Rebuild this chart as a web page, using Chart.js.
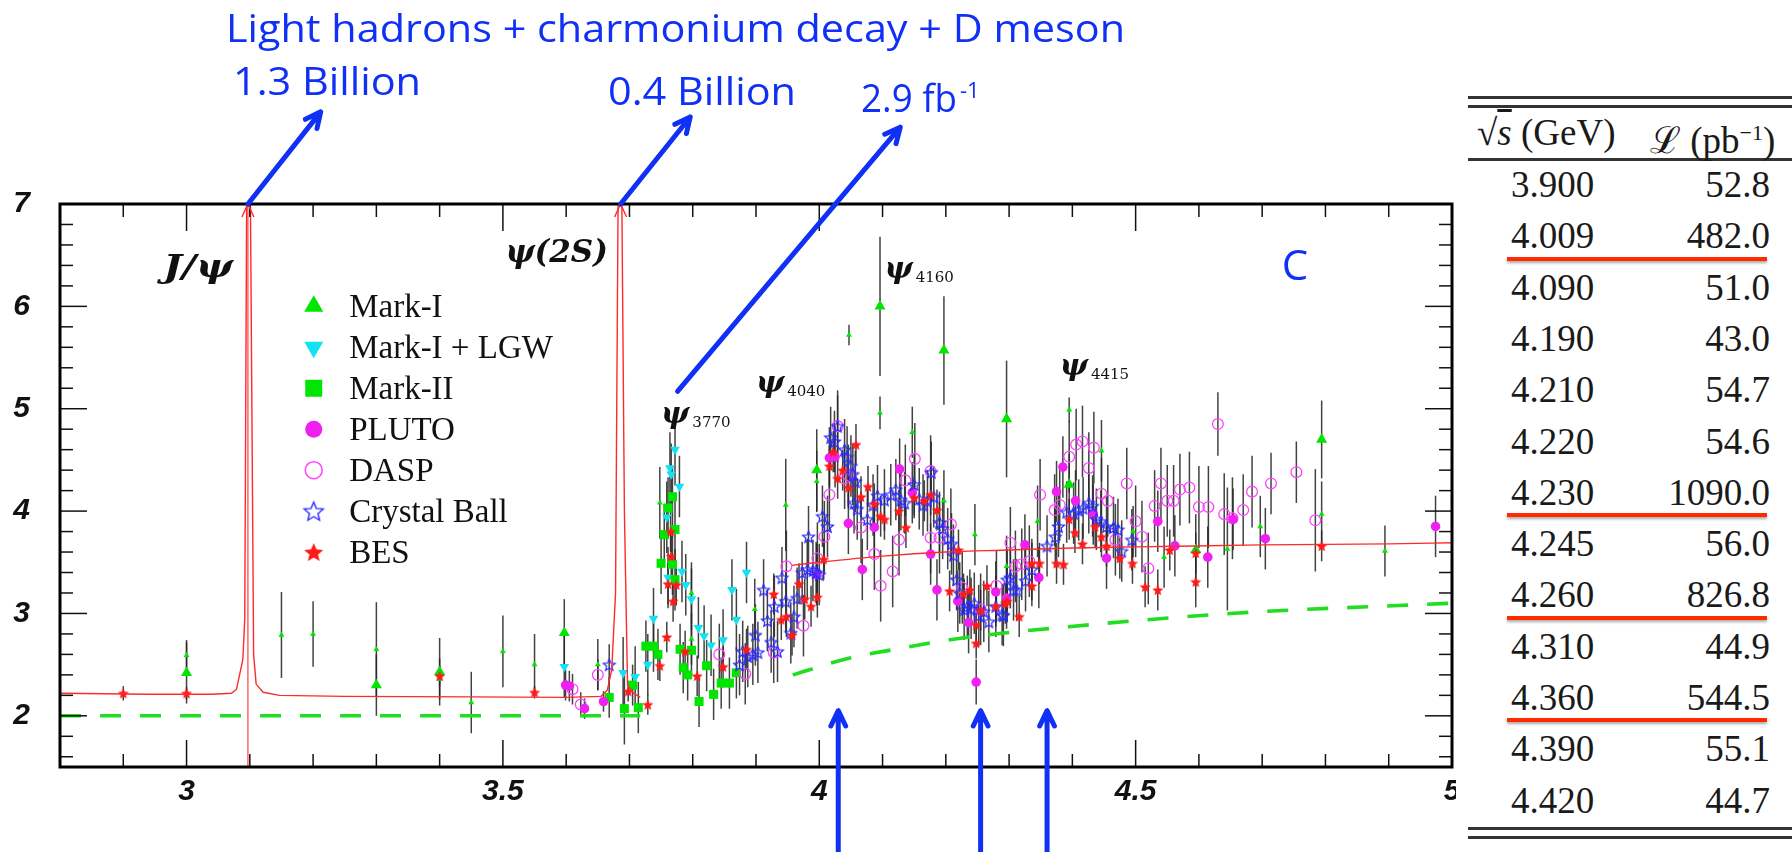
<!DOCTYPE html>
<html lang="en">
<head>
<meta charset="UTF-8" />
<title>R scan with BESIII samples</title>
<style>
  html, body { margin: 0; padding: 0; background: #fff; overflow: hidden; }
  #wrap { position: relative; width: 1792px; height: 852px; }
  #rplot { position: absolute; left: 0; top: 0; }
  #lumi { position: absolute; left: 1456px; top: 0; width: 336px; height: 852px; background: #fff;
          font-family: "Liberation Serif", "Times New Roman", serif; font-size: 37px; color: #1a1a1a; }
  .rule { position: absolute; left: 12px; right: 0; height: 2.5px; background: #333; }
  .row { position: absolute; left: 0; right: 0; height: 51.3px; line-height: 51.3px; white-space: nowrap; }
  .row .e { position: absolute; left: 55px; }
  .row .l { position: absolute; right: 22px; }
  .row .h1 { position: absolute; left: 21px; }
  .row .h2 { position: absolute; left: 194px; }
  .mark { position: absolute; left: 51px; width: 260px; height: 4px; background: #ff2a00;
          box-shadow: 0 2px 3px rgba(0,0,0,0.35); }
</style>
</head>
<body>
<div id="wrap">
  <canvas id="rplot" width="1792" height="852"></canvas>
  <div id="lumi"></div>
</div>

<script src="https://cdn.jsdelivr.net/npm/chart.js"></script>
<script>
  // axis labels
  const xLabels = [3, 3.5, 4, 4.5, 5];
  const yLabels = [2, 3, 4, 5, 6, 7];

  // measured R values: [sqrt(s) GeV, R, error]
  const markIBig = [
    [3.0, 2.42, 0.3], [3.30, 2.30, 0.3], [3.40, 2.43, 0.33], [3.597, 2.81, 0.33],
    [3.996, 4.40, 0.4], [4.096, 6.00, 0.68], [4.197, 5.57, 0.53], [4.296, 4.90, 0.57],
    [4.395, 4.26, 0.3], [4.595, 3.62, 0.35], [4.794, 4.70, 0.38]
  ];
  const markISmall = [
    [3.0, 2.59, 0.15], [3.15, 2.79, 0.42], [3.20, 2.80, 0.32], [3.30, 2.65, 0.46],
    [3.40, 2.36, 0.2], [3.45, 2.13, 0.3], [3.50, 2.63, 0.35], [3.55, 2.50, 0.3],
    [3.65, 2.50, 0.25], [3.748, 4.08, 0.35], [3.798, 3.20, 0.3], [3.798, 2.75, 0.25],
    [3.898, 3.04, 0.3], [3.947, 4.06, 0.45], [3.996, 4.29, 0.3], [4.047, 5.72, 0.1],
    [4.096, 4.96, 0.16], [4.147, 4.77, 0.25], [4.197, 4.10, 0.3], [4.246, 3.77, 0.3],
    [4.296, 3.46, 0.3], [4.345, 3.90, 0.35], [4.395, 4.99, 0.12], [4.446, 4.59, 0.3],
    [4.496, 3.80, 0.25], [4.545, 3.55, 0.3], [4.645, 3.63, 0.6], [4.697, 3.85, 0.3],
    [4.794, 3.97, 0.32], [4.894, 3.61, 0.25]
  ];
  const markILGW = [
    [3.597, 2.48, 0.3], [3.69, 2.42, 0.35], [3.709, 2.38, 0.3], [3.729, 2.50, 0.3],
    [3.738, 2.95, 0.3], [3.759, 3.94, 0.35], [3.761, 3.35, 0.3], [3.764, 4.42, 0.35],
    [3.766, 4.36, 0.3], [3.772, 4.60, 0.35], [3.779, 4.24, 0.3], [3.783, 3.41, 0.3],
    [3.789, 3.28, 0.3], [3.798, 3.14, 0.3], [3.809, 2.86, 0.3], [3.818, 2.78, 0.3],
    [3.829, 2.69, 0.3], [3.848, 2.74, 0.3], [3.862, 3.23, 0.3], [3.869, 2.94, 0.3],
    [3.885, 3.40, 0.3]
  ];
  const markII = [
    [3.668, 2.18, 0.2], [3.692, 2.07, 0.35], [3.705, 2.30, 0.2], [3.714, 2.08, 0.25],
    [3.726, 2.68, 0.25], [3.738, 2.68, 0.25], [3.745, 2.60, 0.25], [3.75, 3.49, 0.3],
    [3.755, 3.77, 0.3], [3.761, 4.03, 0.3], [3.768, 4.14, 0.3], [3.772, 3.82, 0.3],
    [3.768, 3.48, 0.3], [3.772, 3.33, 0.3], [3.78, 2.65, 0.25], [3.785, 2.47, 0.25],
    [3.792, 2.40, 0.25], [3.798, 2.64, 0.25], [3.81, 2.14, 0.25], [3.822, 2.49, 0.25],
    [3.833, 2.21, 0.25], [3.845, 2.32, 0.25], [3.858, 2.32, 0.25], [3.869, 2.42, 0.25]
  ];
  const pluto = [
    [3.599, 2.30, 0.15], [3.605, 2.29, 0.15], [3.629, 2.07, 0.1], [3.659, 2.14, 0.1],
    [3.996, 3.38, 0.3], [4.016, 4.52, 0.3], [4.025, 4.53, 0.3], [4.046, 3.88, 0.3],
    [4.068, 3.43, 0.3], [4.087, 3.84, 0.3], [4.127, 4.41, 0.3], [4.147, 4.18, 0.3],
    [4.176, 3.58, 0.3], [4.186, 3.23, 0.3], [4.219, 3.12, 0.3], [4.236, 2.91, 0.3],
    [4.248, 2.33, 0.22], [4.279, 3.21, 0.3], [4.296, 3.15, 0.3], [4.325, 3.67, 0.3],
    [4.347, 3.35, 0.3], [4.375, 4.19, 0.3], [4.385, 4.43, 0.3], [4.405, 4.10, 0.3],
    [4.433, 3.97, 0.3], [4.454, 3.54, 0.3], [4.535, 3.90, 0.3], [4.562, 3.66, 0.3],
    [4.614, 3.55, 0.3], [4.654, 3.92, 0.3], [4.705, 3.73, 0.3], [4.974, 3.85, 0.3]
  ];
  const dasp = [
    [3.61, 2.26, 0.15], [3.623, 2.11, 0.12], [3.65, 2.40, 0.15], [3.842, 2.60, 0.3],
    [3.883, 2.41, 0.3], [3.928, 2.62, 0.3], [3.948, 3.46, 0.35], [3.975, 2.88, 0.3],
    [3.997, 3.54, 0.35], [4.008, 3.75, 0.35], [4.016, 4.16, 0.35], [4.029, 4.83, 0.35],
    [4.04, 4.32, 0.3], [4.046, 4.35, 0.3], [4.066, 3.84, 0.35], [4.087, 3.58, 0.35],
    [4.097, 3.27, 0.35], [4.116, 3.41, 0.35], [4.126, 3.72, 0.35], [4.136, 4.30, 0.35],
    [4.151, 4.51, 0.35], [4.176, 4.39, 0.35], [4.176, 3.74, 0.35], [4.19, 3.74, 0.35],
    [4.208, 3.87, 0.35], [4.226, 3.25, 0.35], [4.255, 3.04, 0.35], [4.28, 3.27, 0.35],
    [4.302, 3.69, 0.35], [4.31, 3.46, 0.35], [4.32, 3.48, 0.35], [4.332, 3.51, 0.35],
    [4.349, 4.16, 0.35], [4.372, 4.01, 0.35], [4.38, 4.06, 0.35], [4.395, 4.53, 0.35],
    [4.406, 4.65, 0.35], [4.416, 4.68, 0.35], [4.426, 4.42, 0.35], [4.434, 4.62, 0.35],
    [4.446, 4.17, 0.35], [4.456, 4.10, 0.35], [4.468, 3.72, 0.35], [4.486, 4.27, 0.35],
    [4.5, 3.90, 0.35], [4.51, 3.75, 0.35], [4.52, 3.44, 0.35], [4.53, 4.05, 0.35],
    [4.54, 4.27, 0.35], [4.55, 4.10, 0.35], [4.56, 4.10, 0.35], [4.57, 4.21, 0.35],
    [4.585, 4.23, 0.35], [4.60, 4.04, 0.4], [4.615, 4.04, 0.4], [4.63, 4.85, 0.31],
    [4.64, 3.97, 0.4], [4.653, 3.93, 0.4], [4.67, 4.01, 0.35], [4.684, 4.19, 0.35],
    [4.714, 4.27, 0.3], [4.754, 4.38, 0.3], [4.784, 3.91, 0.5]
  ];
  const crystalBall = [
    [3.668, 2.50, 0.2], [3.874, 2.50, 0.3], [3.879, 2.63, 0.3], [3.887, 2.58, 0.3],
    [3.895, 2.60, 0.3], [3.899, 2.79, 0.3], [3.903, 2.62, 0.3], [3.912, 3.23, 0.3],
    [3.918, 2.93, 0.3], [3.924, 2.72, 0.3], [3.934, 2.63, 0.3], [3.929, 3.07, 0.3],
    [3.941, 3.35, 0.3], [3.947, 3.12, 0.3], [3.955, 2.81, 0.3], [3.96, 2.97, 0.3],
    [3.965, 3.15, 0.3], [3.973, 3.40, 0.3], [3.981, 3.43, 0.3], [3.983, 3.75, 0.3],
    [3.99, 3.42, 0.3], [3.995, 3.40, 0.3], [4.0, 3.38, 0.3], [4.005, 3.95, 0.3],
    [4.013, 3.85, 0.3], [4.018, 4.72, 0.3], [4.024, 4.68, 0.3], [4.029, 4.83, 0.3],
    [4.04, 4.60, 0.3], [4.044, 4.53, 0.3], [4.05, 4.44, 0.3], [4.053, 4.36, 0.3],
    [4.057, 4.29, 0.3], [4.055, 4.08, 0.3], [4.06, 4.02, 0.3], [4.076, 3.92, 0.3],
    [4.085, 4.06, 0.3], [4.092, 4.15, 0.3], [4.103, 4.11, 0.3], [4.113, 4.16, 0.3],
    [4.121, 4.21, 0.3], [4.129, 4.11, 0.3], [4.135, 4.08, 0.3], [4.15, 4.26, 0.3],
    [4.158, 4.12, 0.3], [4.164, 4.06, 0.3], [4.171, 4.10, 0.3], [4.177, 4.38, 0.3],
    [4.181, 4.14, 0.3], [4.19, 3.89, 0.3], [4.195, 3.83, 0.3], [4.203, 3.73, 0.3],
    [4.209, 3.68, 0.3], [4.212, 3.57, 0.3], [4.217, 3.33, 0.3], [4.222, 3.20, 0.3],
    [4.229, 3.04, 0.3], [4.234, 3.07, 0.3], [4.24, 3.05, 0.3], [4.245, 3.10, 0.3],
    [4.252, 2.98, 0.3], [4.26, 3.02, 0.3], [4.268, 2.92, 0.3], [4.279, 3.07, 0.3],
    [4.289, 2.99, 0.3], [4.291, 2.98, 0.3], [4.297, 3.33, 0.3], [4.302, 3.35, 0.3],
    [4.307, 3.23, 0.3], [4.312, 3.23, 0.3], [4.326, 3.32, 0.3], [4.336, 3.43, 0.3],
    [4.36, 3.66, 0.3], [4.373, 3.75, 0.3], [4.378, 3.85, 0.3], [4.391, 3.99, 0.3],
    [4.402, 3.98, 0.3], [4.41, 4.01, 0.3], [4.417, 4.03, 0.3], [4.426, 4.08, 0.3],
    [4.432, 4.05, 0.3], [4.438, 3.92, 0.3], [4.445, 3.90, 0.3], [4.454, 3.85, 0.3],
    [4.465, 3.84, 0.3], [4.472, 3.82, 0.3], [4.478, 3.61, 0.3], [4.494, 3.72, 0.3]
  ];
  const bes = [
    [2.9, 2.22, 0.07], [3.0, 2.22, 0.06], [3.40, 2.39, 0.1], [3.55, 2.23, 0.06],
    [3.698, 2.24, 0.1], [3.729, 2.11, 0.1], [3.748, 2.49, 0.15], [3.759, 2.77, 0.15],
    [3.761, 3.29, 0.2], [3.765, 3.80, 0.2], [3.766, 3.56, 0.2], [3.769, 3.12, 0.2],
    [3.774, 3.28, 0.2], [3.788, 2.63, 0.2], [3.807, 2.39, 0.2], [3.848, 2.48, 0.2],
    [3.885, 2.65, 0.2], [3.928, 3.19, 0.2], [3.94, 2.94, 0.2], [3.948, 2.97, 0.2],
    [3.957, 2.79, 0.2], [3.968, 3.29, 0.2], [3.977, 3.14, 0.2], [3.987, 3.07, 0.2],
    [3.997, 3.16, 0.2], [4.007, 3.53, 0.2], [4.016, 4.44, 0.2], [4.022, 4.58, 0.2],
    [4.029, 4.32, 0.2], [4.037, 4.40, 0.2], [4.046, 4.23, 0.2], [4.058, 4.65, 0.2],
    [4.066, 4.14, 0.2], [4.077, 4.24, 0.2], [4.087, 4.07, 0.2], [4.097, 3.95, 0.2],
    [4.103, 3.92, 0.2], [4.126, 4.00, 0.2], [4.137, 3.84, 0.2], [4.15, 4.13, 0.2],
    [4.166, 4.10, 0.2], [4.176, 4.16, 0.2], [4.186, 4.01, 0.2], [4.206, 3.22, 0.2],
    [4.22, 3.62, 0.2], [4.228, 3.19, 0.2], [4.238, 3.23, 0.2], [4.248, 2.89, 0.2],
    [4.248, 2.71, 0.15], [4.255, 3.03, 0.2], [4.265, 3.27, 0.2], [4.279, 3.07, 0.2],
    [4.294, 3.10, 0.2], [4.297, 3.12, 0.2], [4.316, 2.97, 0.2], [4.336, 3.27, 0.2],
    [4.336, 3.49, 0.2], [4.348, 3.49, 0.2], [4.375, 3.49, 0.2], [4.386, 3.48, 0.2],
    [4.395, 3.92, 0.2], [4.404, 3.79, 0.2], [4.416, 3.68, 0.2], [4.436, 3.85, 0.2],
    [4.446, 3.75, 0.2], [4.454, 3.66, 0.2], [4.475, 3.54, 0.2], [4.495, 3.49, 0.2],
    [4.515, 3.26, 0.2], [4.535, 3.23, 0.2], [4.554, 3.62, 0.2], [4.595, 3.59, 0.2],
    [4.595, 3.31, 0.25], [4.794, 3.66, 0.15]
  ];

  // theory curves
  const charmCurve = [
    [2.8, 2.22], [2.94, 2.21], [3.04, 2.21], [3.071, 2.22], [3.079, 2.26], [3.089, 2.55],
    [3.092, 2.95], [3.095, 7], [3.101, 7], [3.106, 2.6], [3.11, 2.31], [3.121, 2.23],
    [3.147, 2.2], [3.25, 2.19], [3.45, 2.185], [3.6, 2.18], [3.655, 2.19], [3.665, 2.25],
    [3.672, 2.45], [3.678, 3.2], [3.682, 7], [3.688, 7], [3.692, 4.0], [3.697, 2.3],
    [3.705, 2.23], [3.717, 2.18]
  ];
  const contCurve = [
    [3.957, 3.47], [4.0, 3.50], [4.1, 3.56], [4.2, 3.60], [4.3, 3.62], [4.4, 3.64],
    [4.5, 3.65], [4.7, 3.67], [4.9, 3.68], [5.0, 3.69]
  ];
  const jpsiLine = [[3.097, 1.5], [3.097, 7]];
  const udsLow = [[2.8, 2.0], [3.717, 2.0]];
  const udscHigh = [
    [3.958, 2.40], [4.045, 2.56], [4.12, 2.65], [4.226, 2.76], [4.394, 2.87],
    [4.65, 3.0], [5.0, 3.1]
  ];
  const peaks = [3.097, 3.686];

  // BESIII data samples (table)
  const energies = ['3.900', '4.009', '4.090', '4.190', '4.210', '4.220', '4.230',
                    '4.245', '4.260', '4.310', '4.360', '4.390', '4.420'];
  const lumis = ['52.8', '482.0', '51.0', '43.0', '54.7', '54.6', '1090.0',
                 '56.0', '826.8', '44.9', '544.5', '55.1', '44.7'];
  const bigSamples = ['4.009', '4.230', '4.260', '4.360'];
  const sampleArrows = [4.03, 4.255, 4.36];

  const GREEN = '#00e600', CYAN = '#12e2f2', MAGENTA = '#f020f0', BLUE = '#2a2aff', RED = '#ff1a1a';
  const NOTE_BLUE = '#1030f5';

  function starImage(r, fill, stroke, lw) {
    const c = document.createElement('canvas');
    const s = Math.ceil(2 * r + 2 * lw + 4);
    c.width = c.height = s;
    const g = c.getContext('2d');
    g.translate(s / 2, s / 2 + r * 0.1);
    g.beginPath();
    for (let i = 0; i < 10; i++) {
      const rad = i % 2 ? r * 0.45 : r;
      const a = -Math.PI / 2 + i * Math.PI / 5;
      g.lineTo(rad * Math.cos(a), rad * Math.sin(a));
    }
    g.closePath();
    if (fill) { g.fillStyle = fill; g.fill(); }
    if (stroke) { g.strokeStyle = stroke; g.lineWidth = lw; g.stroke(); }
    return c;
  }
  const cbStar = starImage(6.2, null, BLUE, 1.2);
  const besStar = starImage(5.8, RED, null, 0);
  const cbStarBig = starImage(10, null, BLUE, 1.4);
  const besStarBig = starImage(10, RED, null, 0);

  const pts = (label, rows, extra) => Object.assign({
    label,
    data: rows.map(r => ({ x: r[0], y: r[1] })),
    errors: rows.map(r => r[2]),
    borderWidth: 0
  }, extra);

  const curve = (label, rows, color, width, extra) => Object.assign({
    label,
    data: rows.map(r => ({ x: r[0], y: r[1] })),
    showLine: true, borderColor: color, borderWidth: width, pointRadius: 0, fill: false
  }, extra);

  const datasets = [
    curve('charmonium', charmCurve, '#ff2a2a', 1.4, { tension: 0 }),
    curve('continuum', contCurve, '#ff2a2a', 1.4, { cubicInterpolationMode: 'monotone' }),
    curve('J/psi', jpsiLine, '#ff4040', 1.2, {}),
    pts('BES', bes, { pointStyle: besStar }),
    pts('Crystal Ball', crystalBall, { pointStyle: cbStar }),
    pts('PLUTO', pluto, { pointStyle: 'circle', pointRadius: 4.8, backgroundColor: MAGENTA }),
    pts('DASP', dasp, { pointStyle: 'circle', pointRadius: 5.4, backgroundColor: 'rgba(0,0,0,0)',
                        borderColor: '#ff44ff', borderWidth: 1.3 }),
    pts('Mark-II', markII, { pointStyle: 'rect', pointRadius: 6.4, backgroundColor: GREEN }),
    pts('Mark-I + LGW', markILGW, { pointStyle: 'triangle', rotation: 180, pointRadius: 5.6, backgroundColor: CYAN }),
    pts('Mark-I', markIBig, { pointStyle: 'triangle', pointRadius: 6.4, backgroundColor: GREEN }),
    pts('Mark-I ', markISmall, { pointStyle: 'triangle', pointRadius: 3.4, backgroundColor: GREEN }),
    curve('uds', udsLow, '#22dd22', 3.6, { borderDash: [21, 19] }),
    curve('udsc', udscHigh, '#22dd22', 3.6, { borderDash: [21, 19], cubicInterpolationMode: 'monotone' })
  ];

  // vertical error bars, drawn under the markers
  const errorBars = {
    id: 'errorBars',
    beforeDatasetsDraw(chart) {
      const { ctx, chartArea: a, scales: { x, y } } = chart;
      ctx.save();
      ctx.beginPath();
      ctx.rect(a.left, a.top, a.right - a.left, a.bottom - a.top);
      ctx.clip();
      ctx.strokeStyle = 'rgba(40,40,40,0.88)';
      ctx.lineWidth = 1.5;
      chart.data.datasets.forEach(ds => {
        if (!ds.errors) return;
        ds.data.forEach((p, i) => {
          const xp = x.getPixelForValue(p.x);
          ctx.beginPath();
          ctx.moveTo(xp, y.getPixelForValue(p.y - ds.errors[i]));
          ctx.lineTo(xp, y.getPixelForValue(p.y + ds.errors[i]));
          ctx.stroke();
        });
      });
      ctx.restore();
    }
  };

  // box frame with inward ticks on all four sides
  const frame = {
    id: 'frame',
    afterDatasetsDraw(chart) {
      const { ctx, chartArea: a, scales: { x, y } } = chart;
      const seg = (x1, y1, x2, y2) => { ctx.beginPath(); ctx.moveTo(x1, y1); ctx.lineTo(x2, y2); ctx.stroke(); };
      ctx.save();
      ctx.strokeStyle = '#111';
      ctx.lineWidth = 1.5;
      for (let i = 1; i < 22; i++) {
        const v = 2.8 + i * 0.1;
        const len = Math.abs(v * 2 - Math.round(v * 2)) < 1e-6 ? 27 : 13;
        const xp = x.getPixelForValue(v);
        seg(xp, a.bottom, xp, a.bottom - len);
        seg(xp, a.top, xp, a.top + len);
      }
      for (let i = 0; i < 27; i++) {
        const v = 1.6 + i * 0.2;
        const len = Math.abs(v - Math.round(v)) < 1e-6 ? 27 : 13;
        const yp = y.getPixelForValue(v);
        seg(a.left, yp, a.left + len, yp);
        seg(a.right, yp, a.right - len, yp);
      }
      ctx.lineWidth = 3;
      ctx.strokeStyle = '#000';
      ctx.strokeRect(a.left, a.top, a.right - a.left, a.bottom - a.top);

      // resonance peak arrowheads
      ctx.strokeStyle = '#ff2a2a';
      ctx.lineWidth = 1.4;
      peaks.forEach(v => {
        const xp = x.getPixelForValue(v), yp = y.getPixelForValue(7);
        ctx.beginPath();
        ctx.moveTo(xp - 6, yp + 13); ctx.lineTo(xp, yp); ctx.lineTo(xp + 6, yp + 13);
        ctx.stroke();
      });
      ctx.restore();
    }
  };

  const legendRows = [
    { label: 'Mark-I', opts: { pointStyle: 'triangle', radius: 11 }, fill: GREEN },
    { label: 'Mark-I + LGW', opts: { pointStyle: 'triangle', rotation: 180, radius: 11 }, fill: CYAN },
    { label: 'Mark-II', opts: { pointStyle: 'rect', radius: 12 }, fill: GREEN },
    { label: 'PLUTO', opts: { pointStyle: 'circle', radius: 8.5 }, fill: MAGENTA },
    { label: 'DASP', opts: { pointStyle: 'circle', radius: 8.5, borderWidth: 1.5 }, fill: 'rgba(0,0,0,0)', stroke: '#ff44ff' },
    { label: 'Crystal Ball', opts: { pointStyle: cbStarBig, radius: 10 } },
    { label: 'BES', opts: { pointStyle: besStarBig, radius: 10 } }
  ];

  function arrow(ctx, x1, y1, x2, y2) {
    const ang = Math.atan2(y2 - y1, x2 - x1), h = 17;
    ctx.beginPath();
    ctx.moveTo(x1, y1); ctx.lineTo(x2, y2);
    ctx.moveTo(x2 - h * Math.cos(ang - 0.45), y2 - h * Math.sin(ang - 0.45));
    ctx.lineTo(x2, y2);
    ctx.lineTo(x2 - h * Math.cos(ang + 0.45), y2 - h * Math.sin(ang + 0.45));
    ctx.stroke();
  }

  function fitText(ctx, text, x, y, width) {
    const w = ctx.measureText(text).width;
    ctx.save();
    ctx.translate(x, y);
    ctx.scale(width / w, 1);
    ctx.fillText(text, 0, 0);
    ctx.restore();
  }

  // labels, legend and the sample annotations
  const notes = {
    id: 'notes',
    afterDraw(chart) {
      const { ctx, scales: { x, y } } = chart;
      const px = v => x.getPixelForValue(v), py = v => y.getPixelForValue(v);
      ctx.save();
      ctx.textBaseline = 'alphabetic';
      ctx.fillStyle = '#111';

      ctx.font = 'bold italic 31px "DejaVu Serif"';
      fitText(ctx, 'J/ψ', px(2.963), py(6.29), 70);
      ctx.fillText('ψ(2S)', px(3.504), py(6.43));

      [[3.750, 4.86, '3770'], [3.900, 5.16, '4040'], [4.103, 6.28, '4160'], [4.380, 5.33, '4415']]
        .forEach(([xv, yv, sub]) => {
          ctx.font = 'bold italic 30px "DejaVu Serif"';
          ctx.fillText('ψ', px(xv), py(yv));
          const w = ctx.measureText('ψ').width;
          ctx.font = '15px "DejaVu Serif"';
          ctx.fillText(sub, px(xv) + w + 3, py(yv) + 4);
        });

      // legend
      ctx.textBaseline = 'middle';
      legendRows.forEach((row, i) => {
        const yp = py(6.0 - 0.4 * i);
        ctx.fillStyle = row.fill || '#000';
        ctx.strokeStyle = row.stroke || row.fill || '#000';
        ctx.lineWidth = row.opts.borderWidth || 0;
        Chart.helpers.drawPoint(ctx, Object.assign({ rotation: 0, borderWidth: 0 }, row.opts), px(3.201), yp);
        ctx.fillStyle = '#111';
        ctx.font = '33px "Liberation Serif"';
        ctx.fillText(row.label, px(3.257), yp + 2);
      });

      // blue notes
      ctx.textBaseline = 'alphabetic';
      ctx.fillStyle = NOTE_BLUE;
      ctx.font = '42px "Open Sans"';
      ctx.textAlign = 'center';
      ctx.fillText('C', px(4.752), py(6.26));
      ctx.textAlign = 'left';
      ctx.font = '38px "Open Sans"';
      fitText(ctx, 'Light hadrons + charmonium decay + D meson', 226, 42, 899);
      fitText(ctx, '1.3 Billion', 233, 95, 188);
      fitText(ctx, '0.4 Billion', 608, 105, 188);
      fitText(ctx, '2.9 fb', 861, 112, 96);
      ctx.font = '22px "Open Sans"';
      ctx.fillText('-1', 960, 98);

      ctx.strokeStyle = NOTE_BLUE;
      ctx.lineWidth = 5;
      ctx.lineCap = 'round';
      ctx.lineJoin = 'round';
      arrow(ctx, px(3.097), py(7.0), px(3.212), py(7.90));
      arrow(ctx, px(3.686), py(7.0), px(3.796), py(7.85));
      arrow(ctx, px(3.776), py(5.17), px(4.128), py(7.75));
      sampleArrows.forEach(v => arrow(ctx, px(v), py(0.6), px(v), py(2.05)));
      ctx.restore();
    }
  };

  const tickFont = { family: '"Liberation Sans", Arial, sans-serif', size: 30, style: 'italic', weight: 'bold' };

  new Chart(document.getElementById('rplot'), {
    type: 'scatter',
    data: { datasets },
    options: {
      responsive: false,
      animation: false,
      events: [],
      layout: { padding: { top: 204, right: 340, left: 0, bottom: 0 } },
      plugins: { legend: { display: false }, tooltip: { enabled: false } },
      scales: {
        x: {
          type: 'linear', min: 2.8, max: 5,
          grid: { display: false, drawTicks: false },
          border: { display: false },
          afterBuildTicks: s => { s.ticks = xLabels.map(v => ({ value: v })); },
          afterFit: s => { s.height = 85; s.paddingLeft = s.paddingRight = 0; },
          ticks: { padding: 7, color: '#111', font: tickFont, autoSkip: false, maxRotation: 0,
                   callback: v => String(v) }
        },
        y: {
          type: 'linear', min: 1.5, max: 7,
          grid: { display: false, drawTicks: false },
          border: { display: false },
          afterBuildTicks: s => { s.ticks = yLabels.map(v => ({ value: v })); },
          afterFit: s => { s.width = 60; s.paddingTop = s.paddingBottom = 0; },
          ticks: { padding: 30, color: '#111', font: Object.assign({}, tickFont, { size: 30 }),
                   callback: v => String(v) }
        }
      }
    },
    plugins: [errorBars, frame, notes]
  });

  // luminosity table
  const tbl = document.getElementById('lumi');
  const rowH = 51.3, firstRow = 159;
  let html = '';
  [96, 105, 158, 827, 836].forEach(t => { html += `<div class="rule" style="top:${t}px"></div>`; });
  html += `<div class="row" style="top:107px"><span class="h1">√<span style="font-style:italic;text-decoration:overline">s</span> (GeV)</span>` +
          `<span class="h2">ℒ (pb<sup style="font-size:22px">−1</sup>)</span></div>`;
  energies.forEach((e, i) => {
    const top = firstRow + i * rowH;
    html += `<div class="row" style="top:${top}px"><span class="e">${e}</span><span class="l">${lumis[i]}</span></div>`;
    if (bigSamples.includes(e)) html += `<div class="mark" style="top:${top + rowH - 5}px"></div>`;
  });
  tbl.innerHTML = html;
</script>
</body>
</html>
